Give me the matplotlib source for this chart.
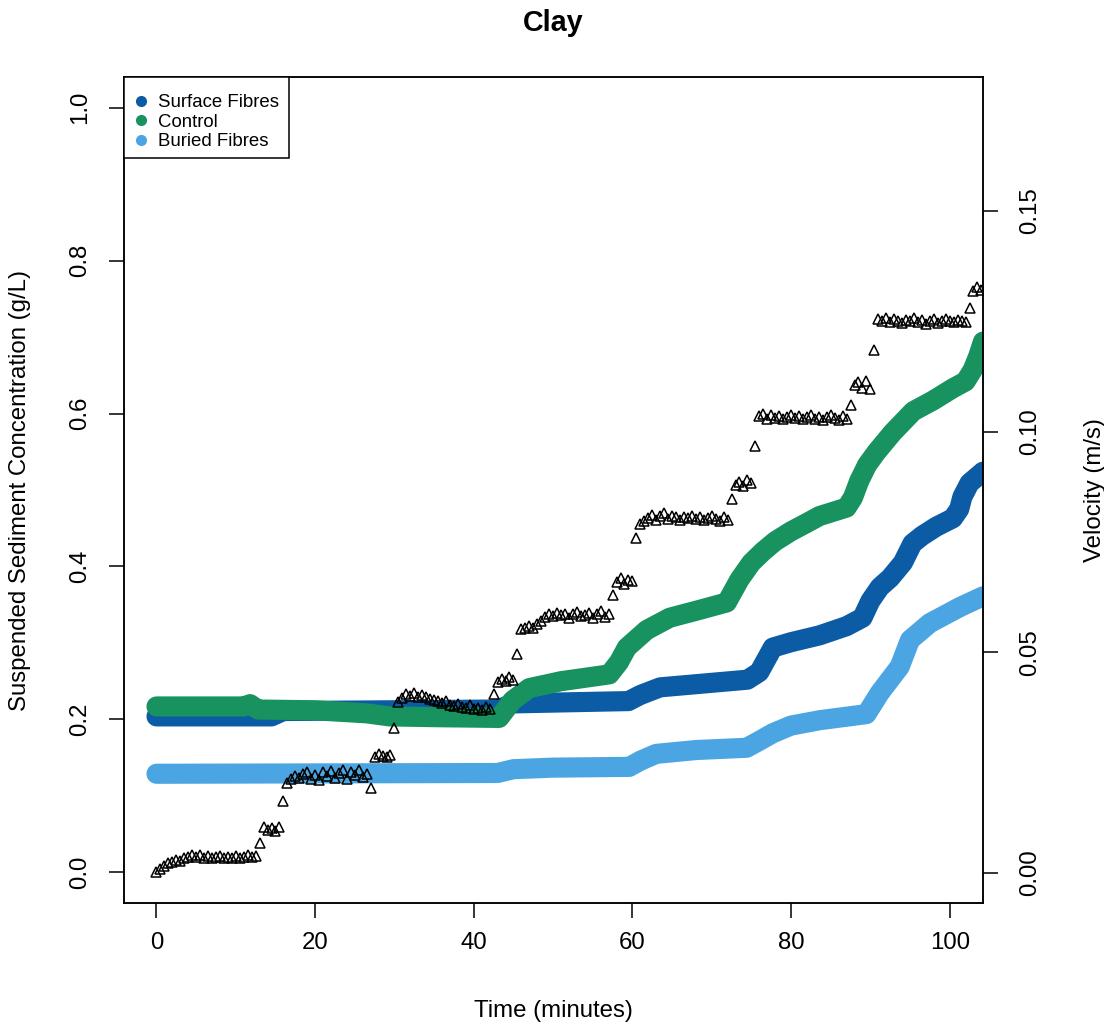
import numpy as np
import matplotlib
matplotlib.use("Agg")
import matplotlib.pyplot as plt
from matplotlib.lines import Line2D
from matplotlib.patches import Rectangle

plt.rcParams['font.family'] = ['Liberation Sans', 'DejaVu Sans']

# suspended sediment concentration (g/L) at breakpoints of each run
surface_t = [0, 14.5, 16, 43, 45, 59.5, 61, 63.5, 74.5, 76, 77.7, 80, 83.6, 87,
             89, 90, 91.2, 92.5, 94.1, 95.3, 96.5, 98.3, 100.4, 101.2, 101.6,
             102.5, 104.2]
surface_c = [0.204, 0.204, 0.211, 0.213, 0.221, 0.224, 0.232, 0.242, 0.252,
             0.262, 0.294, 0.301, 0.310, 0.322, 0.333, 0.355, 0.373, 0.385,
             0.405, 0.430, 0.440, 0.452, 0.463, 0.475, 0.491, 0.509, 0.524]

control_t = [0, 11, 11.8, 12.8, 20, 26.5, 29.4, 35, 43.2, 44.9, 47, 51, 57.1,
             58.3, 59.3, 61.8, 64.7, 68, 71.9, 73.5, 75, 76.5, 78, 80, 82, 83.6,
             87, 87.8, 88.6, 89.6, 90.8, 92.8, 95.4, 97.9, 100.4, 102, 102.9,
             103.6, 104.2]
control_c = [0.217, 0.217, 0.220, 0.213, 0.212, 0.208, 0.204, 0.203, 0.202,
             0.225, 0.241, 0.250, 0.259, 0.275, 0.294, 0.317, 0.333, 0.342,
             0.353, 0.383, 0.405, 0.420, 0.433, 0.446, 0.457, 0.466, 0.477,
             0.490, 0.512, 0.533, 0.550, 0.575, 0.603, 0.617, 0.633, 0.642,
             0.657, 0.675, 0.694]

buried_t = [0, 43, 45, 50, 59.6, 61, 63, 68, 74.4, 76, 77.7, 80, 83.6, 89.5,
            91.2, 93.7, 95, 97.5, 101.3, 104.2]
buried_c = [0.129, 0.130, 0.135, 0.137, 0.138, 0.146, 0.155, 0.160, 0.163,
            0.172, 0.182, 0.192, 0.199, 0.207, 0.235, 0.269, 0.304, 0.326,
            0.347, 0.361]

# flow velocity (m/s), one reading every half minute
vel_dt = 0.5
velocity = [
    0.0002, 0.0010, 0.0016, 0.0022, 0.0025, 0.0030, 0.0028, 0.0034, 0.0036,
    0.0040, 0.0037, 0.0041, 0.0035, 0.0038, 0.0034, 0.0036, 0.0039, 0.0033,
    0.0036, 0.0035, 0.0038, 0.0034, 0.0037, 0.0040, 0.0036, 0.0039,
    0.0068,
    0.0105, 0.0098, 0.0101, 0.0096, 0.0104,
    0.0163,
    0.0205, 0.0212, 0.0220, 0.0216, 0.0225, 0.0230, 0.0214, 0.0222, 0.0210,
    0.0228, 0.0219, 0.0232, 0.0215, 0.0226, 0.0234, 0.0213, 0.0229, 0.0221,
    0.0233, 0.0217, 0.0224,
    0.0193,
    0.0264, 0.0270, 0.0266, 0.0262, 0.0268,
    0.0329,
    0.0388, 0.0396, 0.0405, 0.0402, 0.0408, 0.0400, 0.0404, 0.0398, 0.0395,
    0.0392, 0.0389, 0.0385, 0.0390, 0.0381, 0.0378, 0.0384, 0.0376, 0.0373,
    0.0380, 0.0371, 0.0375, 0.0369, 0.0377, 0.0372,
    0.0406,
    0.0432, 0.0440, 0.0436, 0.0444, 0.0438,
    0.0496,
    0.0552, 0.0556, 0.0560, 0.0555, 0.0565, 0.0570,
    0.0580, 0.0587, 0.0582, 0.0590, 0.0584, 0.0588, 0.0579, 0.0586, 0.0592,
    0.0583, 0.0585, 0.0590, 0.0578, 0.0588, 0.0594, 0.0581, 0.0587,
    0.0630,
    0.0660, 0.0668, 0.0655, 0.0665, 0.0662,
    0.0759,
    0.0790, 0.0798, 0.0805, 0.0812, 0.0800, 0.0808, 0.0815, 0.0803, 0.0810,
    0.0806, 0.0801, 0.0807, 0.0804, 0.0809, 0.0802, 0.0806, 0.0800, 0.0805,
    0.0808, 0.0803, 0.0797, 0.0806, 0.0799,
    0.0847,
    0.0880, 0.0886, 0.0878, 0.0890, 0.0884,
    0.0968,
    0.1035, 0.1040, 0.1030, 0.1038, 0.1032, 0.1036, 0.1028, 0.1034, 0.1039,
    0.1031, 0.1036, 0.1029, 0.1033, 0.1037, 0.1030, 0.1034, 0.1027, 0.1033,
    0.1038, 0.1031, 0.1026, 0.1035, 0.1030,
    0.1060,
    0.1105, 0.1112, 0.1100, 0.1115, 0.1098,
    0.1185,
    0.1255, 0.1250, 0.1258, 0.1248, 0.1256, 0.1252, 0.1246, 0.1254, 0.1250,
    0.1257, 0.1249, 0.1253, 0.1245, 0.1251, 0.1255, 0.1247, 0.1252, 0.1256,
    0.1250, 0.1248, 0.1254, 0.1251, 0.1249,
    0.1280,
    0.1320, 0.1328, 0.1322,
]
vel_t = np.arange(len(velocity)) * vel_dt

labels = ["Surface Fibres", "Control", "Buried Fibres"]
colors = ["#0b5ca4", "#18925e", "#4ba5e2"]

fig = plt.figure(figsize=(11.04, 10.25), dpi=100)
ax = fig.add_axes([0.1123, 0.1190, 0.7781, 0.8059])

band = dict(lw=14.5, solid_capstyle="round", solid_joinstyle="round")
ax.plot(surface_t, surface_c, color=colors[0], **band)
ax.plot(control_t, control_c, color=colors[1], **band)
ax.plot(buried_t, buried_c, color=colors[2], **band)

ax.set_xlim(-4.1, 104.2)
ax.set_ylim(-0.04, 1.04)
ax.set_xticks([0, 20, 40, 60, 80, 100])
ax.set_yticks([0.0, 0.2, 0.4, 0.6, 0.8, 1.0])
ax.set_yticklabels(["0.0", "0.2", "0.4", "0.6", "0.8", "1.0"])
ax.tick_params(direction="out", length=10.8, width=1.1, labelsize=17.3)
ax.tick_params(axis="x", pad=10)
ax.tick_params(axis="y", pad=13, labelrotation=90)
for lab in ax.get_yticklabels():
    lab.set_va("center")
for s in ax.spines.values():
    s.set_linewidth(1.1)

ax.set_xlabel("Time (minutes)", fontsize=17.3, labelpad=33)
ax.set_ylabel("Suspended Sediment Concentration (g/L)", fontsize=17.3, labelpad=27)
ax.set_title("Clay", fontsize=20.7, fontweight="bold", pad=33)

# velocity on a second y axis
ax2 = ax.twinx()
ax2.plot(vel_t, velocity, ls="none", marker="^", markersize=6.5,
         markerfacecolor="none", markeredgecolor="black", markeredgewidth=1.1)
ax2.set_ylim(-0.0068, 0.1804)
ax2.set_yticks([0.0, 0.05, 0.10, 0.15])
ax2.set_yticklabels(["0.00", "0.05", "0.10", "0.15"])
ax2.tick_params(direction="out", length=10.8, width=1.1, labelsize=17.3,
                pad=15, labelrotation=90)
for lab in ax2.get_yticklabels():
    lab.set_va("center")
for s in ax2.spines.values():
    s.set_linewidth(1.1)
ax2.set_ylabel("Velocity (m/s)", fontsize=17.3, rotation=90, labelpad=31)

# legend box drawn separately so its padding can sit like the base-R one
ax2.add_patch(Rectangle((0, 1 - 0.0981), 0.1921, 0.0981, transform=ax2.transAxes,
                        facecolor="white", edgecolor="black", lw=1.1,
                        zorder=5, clip_on=False))
handles = [Line2D([], [], ls="none", marker="o", markersize=7, color=c)
           for c in colors]
leg = ax2.legend(handles, labels, loc="upper left", bbox_to_anchor=(-0.0093, 1),
                 borderaxespad=0, fontsize=13.4, frameon=False,
                 handlelength=0.8, handletextpad=0.5, labelspacing=0.12,
                 borderpad=0.94)
leg.set_zorder(6)

fig.savefig("out.png", dpi=100)
